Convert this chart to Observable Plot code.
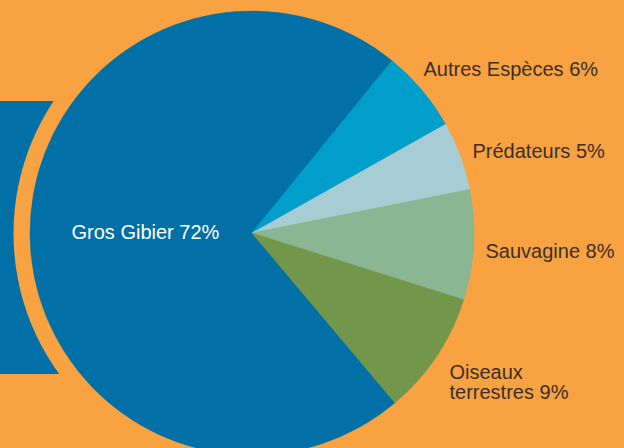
<!DOCTYPE html>
<html>
<head>
<meta charset="utf-8">
<script src="https://cdn.jsdelivr.net/npm/d3@7"></script>
<script src="https://cdn.jsdelivr.net/npm/@observablehq/plot@0.6"></script>
<style>
  html, body { margin: 0; padding: 0; background: #F9A242; }
  #chart svg { display: block; background: transparent; }
</style>
</head>
<body>
<div id="chart"></div>
<script>
// ---- data ----
const categories = ["Gros Gibier", "Autres Espèces", "Prédateurs", "Sauvagine", "Oiseaux terrestres"];
const shares = [72, 6, 5, 8, 9];
const labelNames = ["Gros Gibier", "Autres Espèces", "Prédateurs", "Sauvagine", "Oiseaux\nterrestres"];
const sliceColors = ["#0070A6", "#009ECA", "#A6CDD3", "#89B693", "#72974B"];

// ---- layout (not data) ----
const W = 624, H = 448;
const CX = 252, CY = 233, R = 222;        // pie centre & radius in pixels
const startDeg = 139.9;                    // where "Gros Gibier" begins (clockwise from 12 o'clock)
const px = (x) => (x - CX) / R;            // pixel -> data units
const py = (y) => (CY - y) / R;
const labelPos = [[71, 238], [423, 75], [472, 157], [485, 257], [449, 398]];

const slices = categories.map((c, i) => ({category: c, value: shares[i]}));
const labels = categories.map((c, i) => ({
  text: `${labelNames[i]} ${shares[i]}%`,
  x: px(labelPos[i][0]),
  y: py(labelPos[i][1]),
  light: i === 0
}));

const color = Plot.scale({color: {type: "ordinal", domain: categories, range: sliceColors}});

const pieMark = (index, scales) => {
  const cx = scales.x(0), cy = scales.y(0);
  const r = scales.x(1) - scales.x(0);
  const a0 = startDeg * Math.PI / 180;
  const arcs = d3.pie().value(d => d.value).sort(null).startAngle(a0).endAngle(a0 + 2 * Math.PI)(slices);
  const arc = d3.arc().innerRadius(0).outerRadius(r);
  const g = d3.create("svg:g").attr("transform", `translate(${cx},${cy})`);
  g.selectAll("path").data(arcs).join("path")
    .attr("d", arc)
    .attr("fill", d => color.apply(d.data.category))
    .attr("stroke", d => color.apply(d.data.category))
    .attr("stroke-width", 0.5);
  return g.node();
};

const chart = Plot.plot({
  width: W,
  height: H,
  margin: 0,
  x: {domain: [px(0), px(W)], axis: null},
  y: {domain: [py(H), py(0)], axis: null},
  style: {background: "transparent"},
  marks: [
    Plot.rect([0], {x1: px(-5), x2: px(80), y1: py(101), y2: py(374), fill: "#0070A6"}),
    Plot.dot([0], {x: () => 0, y: () => 0, r: 239, fill: "#F9A242", stroke: null}),
    pieMark,
    Plot.text(labels.filter(d => !d.light), {
      x: "x", y: "y", text: "text", textAnchor: "start", lineAnchor: "bottom",
      lineHeight: 1.0, fontSize: 20, fill: "#3a3028", fontFamily: "Liberation Sans, Arial, sans-serif"
    }),
    Plot.text(labels.filter(d => d.light), {
      x: "x", y: "y", text: "text", textAnchor: "start", lineAnchor: "bottom",
      fontSize: 20, fill: "#ffffff", fontFamily: "Liberation Sans, Arial, sans-serif"
    })
  ]
});
document.getElementById("chart").appendChild(chart);
</script>
</body>
</html>
